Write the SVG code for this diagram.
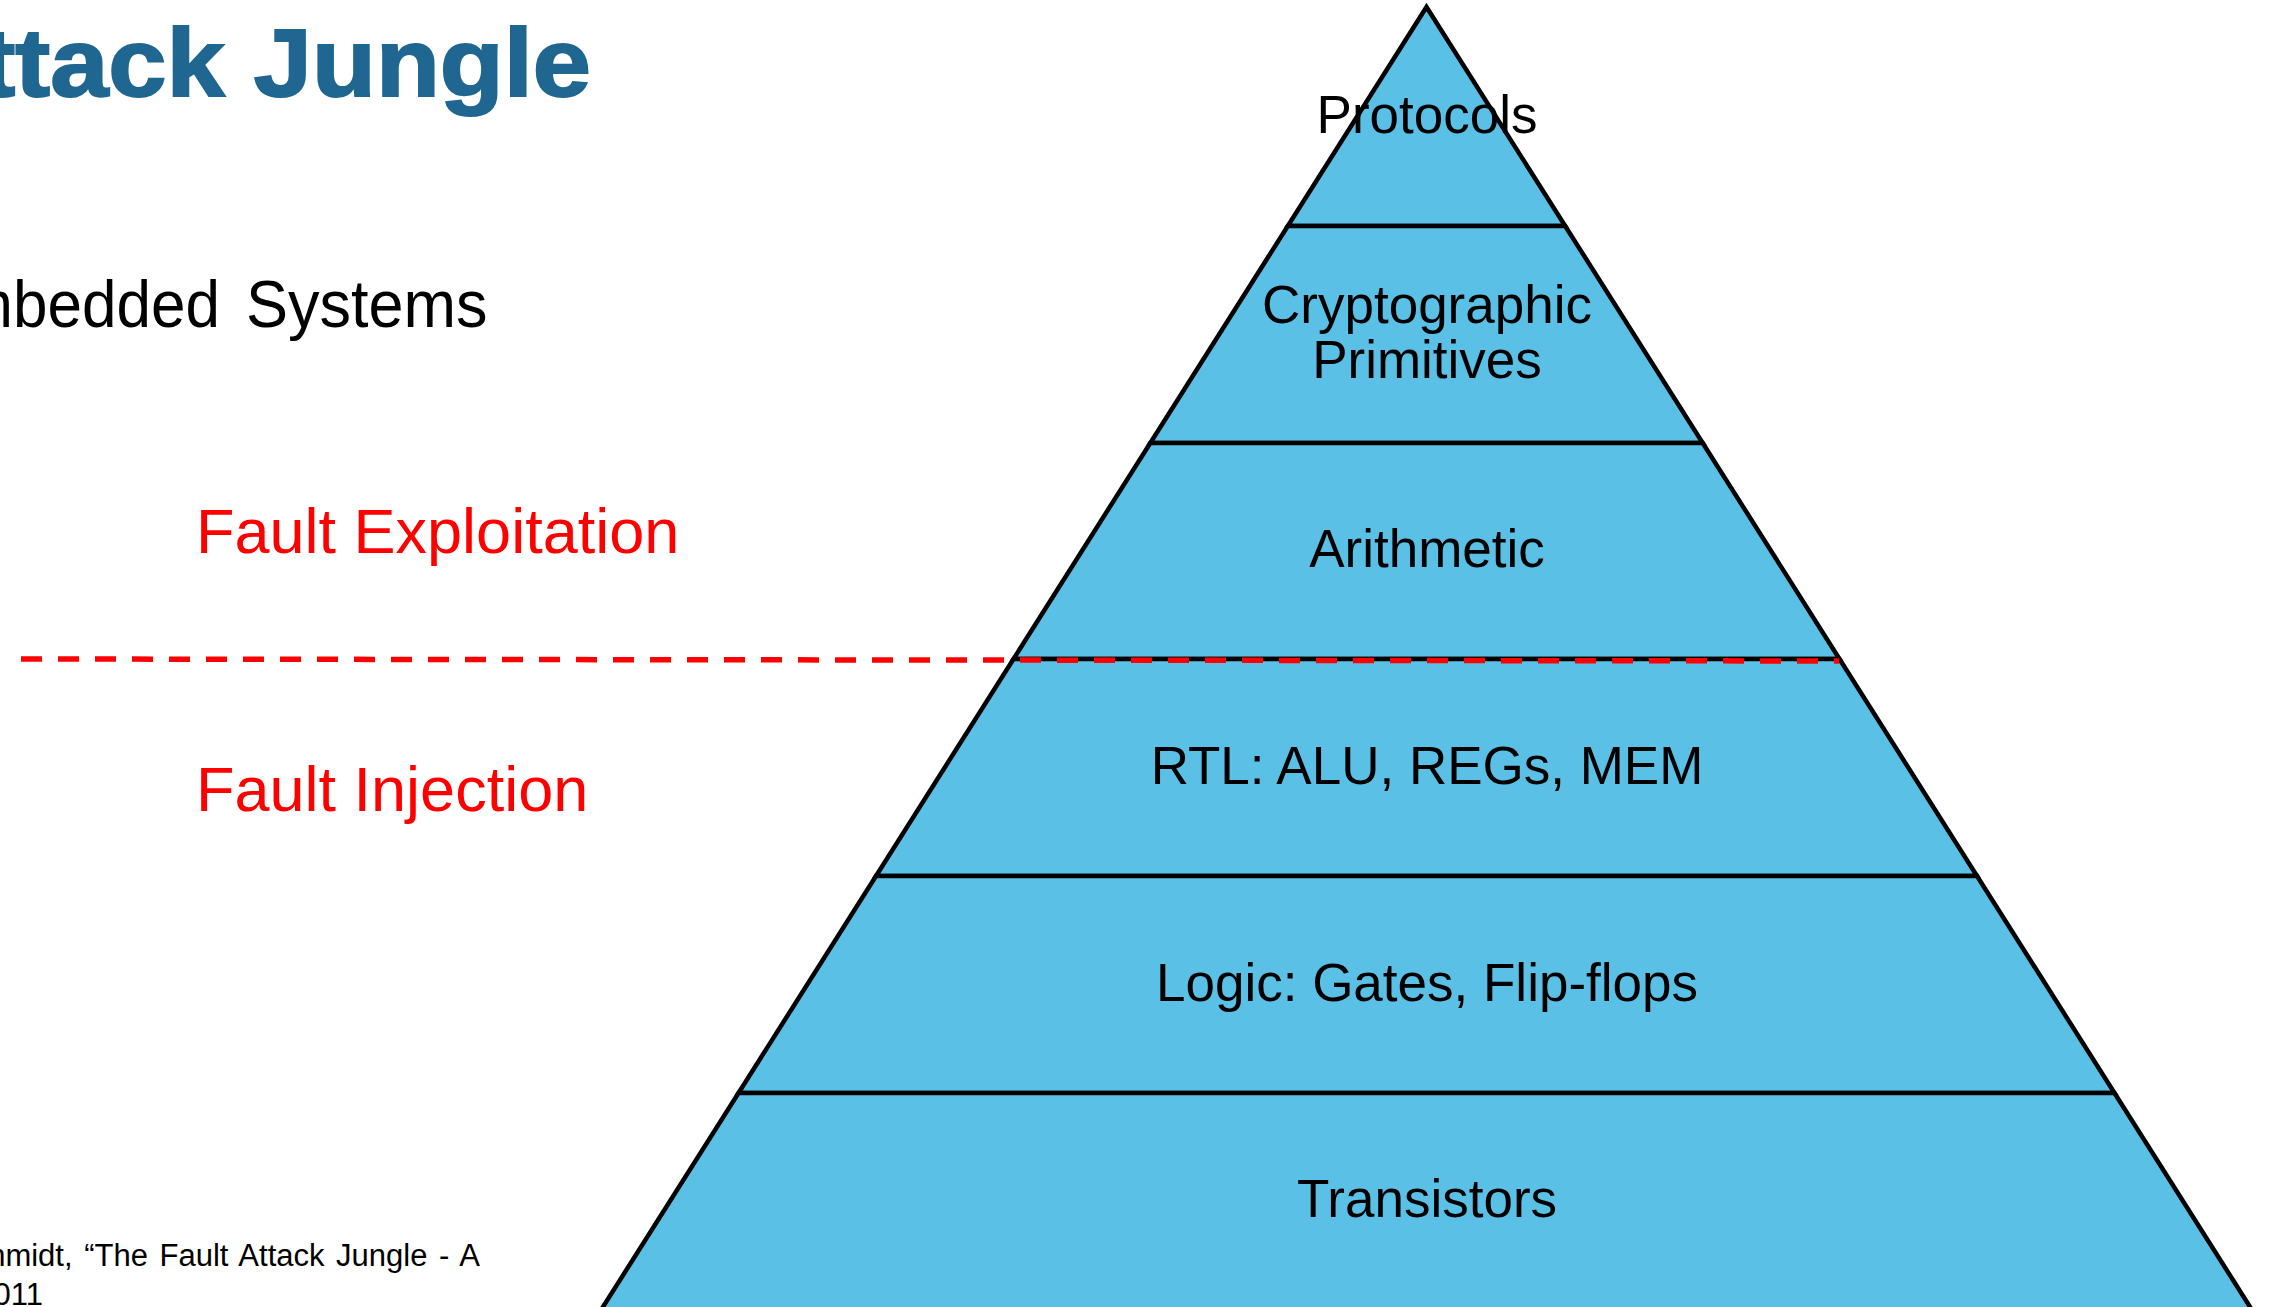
<svg xmlns="http://www.w3.org/2000/svg" width="2272" height="1307" viewBox="0 0 2272 1307">
  <style>
    .layer polygon { fill: #5AC0E6; stroke: #000; stroke-width: 4.5; stroke-linejoin: miter; }
    .lbl { font-family: "Liberation Sans", Arial, sans-serif; font-size: 53px; fill: #000; text-anchor: middle; }
    .side { font-family: "Liberation Sans", Arial, sans-serif; font-size: 63px; fill: #FF0000; }
    .body { font-family: "Liberation Sans", Arial, sans-serif; font-size: 66px; fill: #000; }
    .cite { font-family: "Liberation Sans", Arial, sans-serif; font-size: 31px; fill: #000; word-spacing: 3px; }
    .title { font-family: "Liberation Sans", Arial, sans-serif; font-weight: bold; font-size: 96px; fill: #1F6691; stroke: #1F6691; stroke-width: 2; }
  </style>
  <rect width="2272" height="1307" fill="#FFFFFF"/>

  <!-- slide heading and text -->
  <g id="heading">
    <text class="title" transform="translate(591,96) scale(1.09,1)" text-anchor="end">Attack Jungle</text>
  </g>
  <g id="subtitle">
    <text class="body" transform="translate(220,327) scale(0.94,1)" text-anchor="end">Embedded</text>
    <text class="body" transform="translate(246,327) scale(0.955,1)">Systems</text>
  </g>
  <g id="label-exploitation">
    <text class="side" x="196" y="553">Fault Exploitation</text>
  </g>
  <g id="label-injection">
    <text class="side" x="196" y="811">Fault Injection</text>
  </g>
  <g id="citation">
    <text class="cite" x="480" y="1266" text-anchor="end">Schmidt, “The Fault Attack Jungle - A</text>
    <text class="cite" x="43" y="1305" text-anchor="end">2011</text>
  </g>

  <!-- pyramid layers, top to bottom -->
  <g id="layer-protocols" class="layer">
    <polygon points="1426.5,7 1565.2,226 1287.8,226"/>
    <text class="lbl" x="1427" y="133">Protocols</text>
  </g>
  <g id="layer-crypto" class="layer">
    <polygon points="1287.8,226 1565.2,226 1702.7,443 1150.3,443"/>
    <text class="lbl" x="1427" y="323">Cryptographic</text>
    <text class="lbl" x="1427" y="378">Primitives</text>
  </g>
  <g id="layer-arithmetic" class="layer">
    <polygon points="1150.3,443 1702.7,443 1839.5,659 1013.5,659"/>
    <text class="lbl" x="1427" y="567">Arithmetic</text>
  </g>
  <g id="layer-rtl" class="layer">
    <polygon points="1013.5,659 1839.5,659 1977,876 876,876"/>
    <text class="lbl" x="1427" y="784">RTL: ALU, REGs, MEM</text>
  </g>
  <g id="layer-logic" class="layer">
    <polygon points="876,876 1977,876 2114.5,1093 738.5,1093"/>
    <text class="lbl" x="1427" y="1001">Logic: Gates, Flip-flops</text>
  </g>
  <g id="layer-transistors" class="layer">
    <polygon points="738.5,1093 2114.5,1093 2252,1310 601,1310"/>
    <text class="lbl" x="1427" y="1217">Transistors</text>
  </g>

  <!-- boundary between injection and exploitation -->
  <g id="connectors">
    <line x1="21" y1="659" x2="1839" y2="661" stroke="#FF0000" stroke-width="5.5" stroke-dasharray="21 16"/>
  </g>
</svg>
